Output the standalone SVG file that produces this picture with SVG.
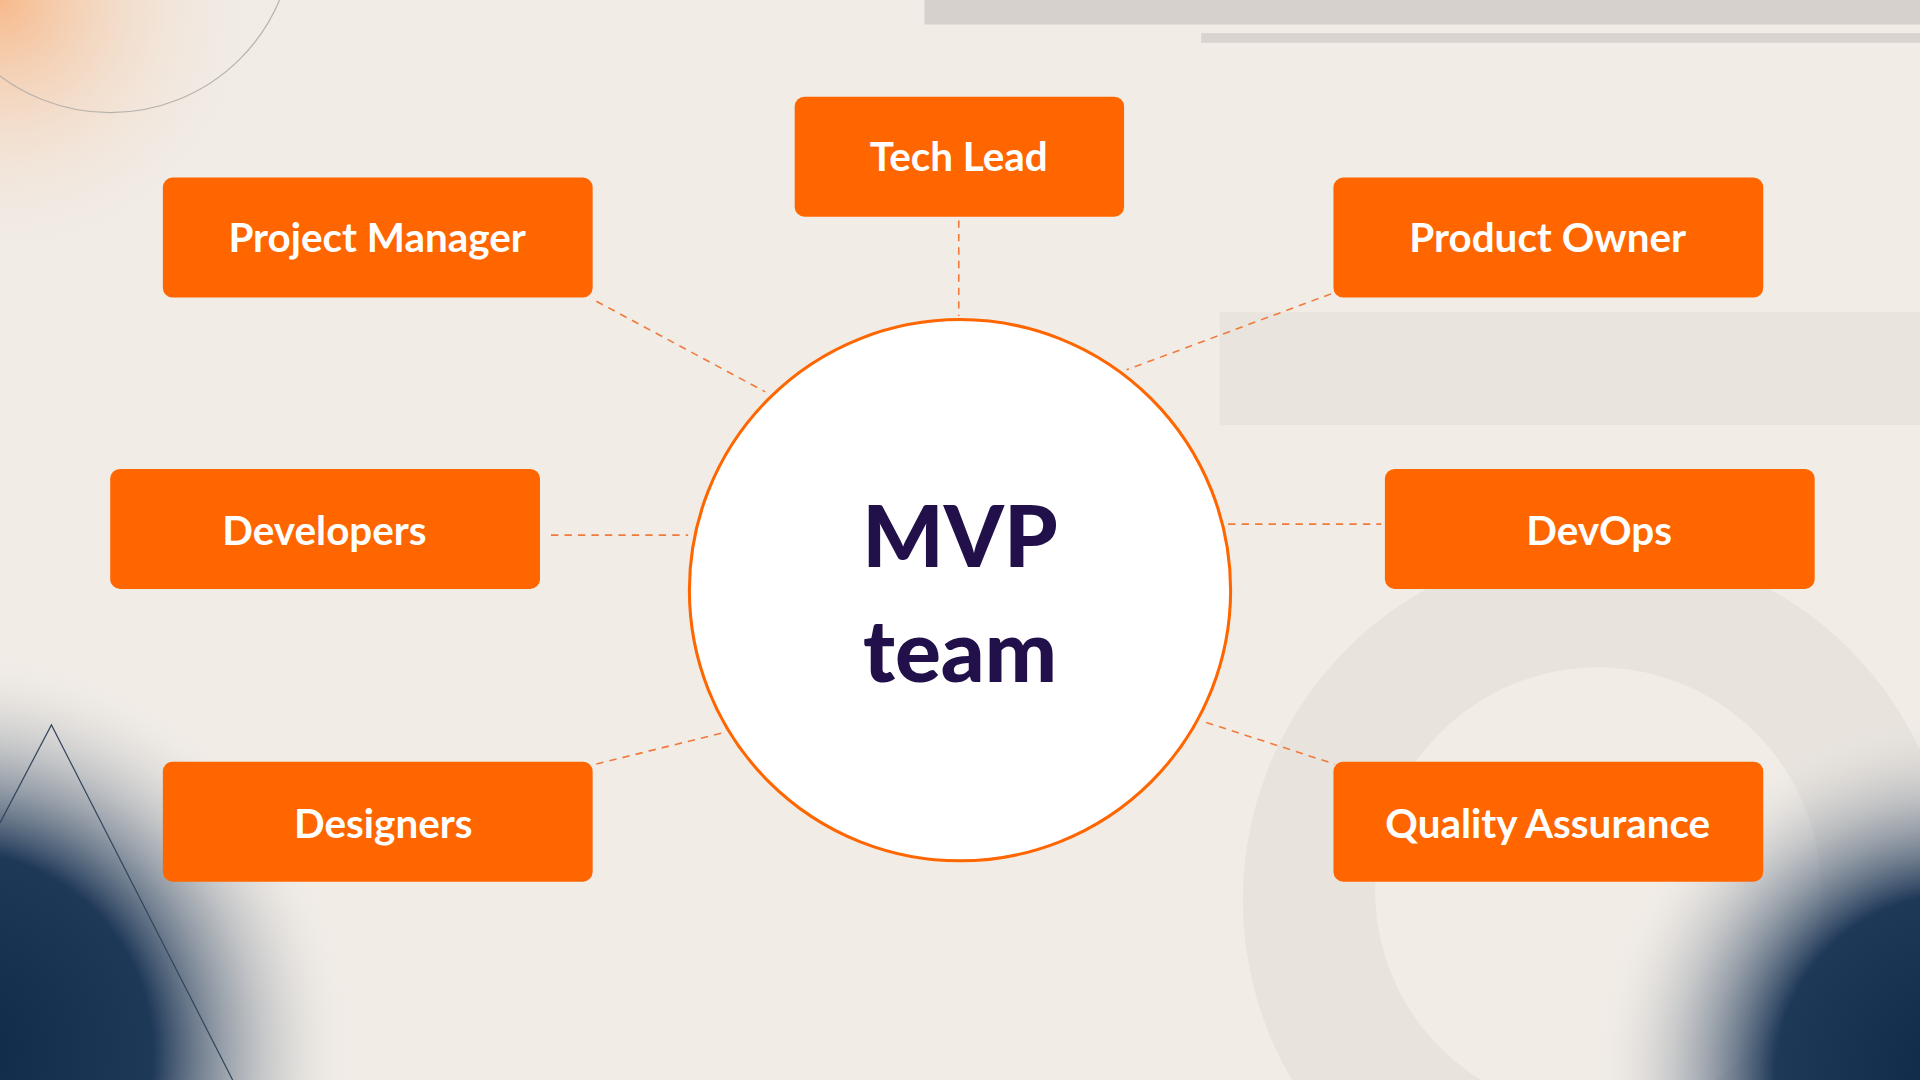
<svg xmlns="http://www.w3.org/2000/svg" width="1920" height="1080" viewBox="0 0 1920 1080">
<defs>
<style>
.box{fill:#ff6600}
.lbl{font-family:Lato,"Open Sans",sans-serif;font-weight:700;font-size:33px;fill:#ffffff;text-anchor:middle}
.con{stroke:#f07a3a;stroke-width:1.3;stroke-dasharray:6 5;fill:none}
.big{font-family:Lato,"Open Sans",sans-serif;font-weight:900;font-size:70px;fill:#22104a;text-anchor:middle}
</style>
<radialGradient id="bl" gradientUnits="userSpaceOnUse" cx="-40" cy="860" r="330">
<stop offset="0" stop-color="#0f2848"/><stop offset="0.5" stop-color="#1e3858"/><stop offset="1" stop-color="#f1ece6" stop-opacity="0"/>
</radialGradient>
<radialGradient id="br" gradientUnits="userSpaceOnUse" cx="1600" cy="880" r="300">
<stop offset="0" stop-color="#0f2848"/><stop offset="0.5" stop-color="#1e3858"/><stop offset="1" stop-color="#f1ece6" stop-opacity="0"/>
</radialGradient>
<radialGradient id="tl" gradientUnits="userSpaceOnUse" cx="0" cy="0" r="220">
<stop offset="0" stop-color="#f7b98a"/><stop offset="1" stop-color="#f1ece6" stop-opacity="0"/>
</radialGradient>
</defs>
<g transform="scale(1.22449)">
<rect width="1568" height="882" fill="#f1ece6"/>
<rect width="260" height="220" fill="url(#tl)"/>
<circle cx="90" cy="-58" r="150" fill="none" stroke="#b8b2ad" stroke-width="1"/>
<rect x="755" y="0" width="813" height="20" fill="#d6d1cd"/>
<rect x="981" y="27" width="587" height="8" fill="#d9d4cf"/>
<rect x="996" y="255" width="572" height="92" fill="#e9e4de"/>
<path d="M1305 445a290 290 0 1 0 0.1 0zM1305 545a182 182 0 1 1 -0.1 0z" fill="#e8e3dd" fill-rule="evenodd"/>
<rect x="0" y="450" width="400" height="432" fill="url(#bl)"/>
<rect x="1250" y="520" width="318" height="362" fill="url(#br)"/>
<path d="M0 672L42 592L190 882" fill="none" stroke="#34465e" stroke-width="1"/>
<g id="connectors">
<line class="con" x1="783" y1="180" x2="783" y2="258"/>
<line class="con" x1="487" y1="246" x2="625" y2="320"/>
<line class="con" x1="1087" y1="240" x2="920" y2="302"/>
<line class="con" x1="450" y1="437" x2="562" y2="437"/>
<line class="con" x1="1003" y1="428" x2="1128" y2="428"/>
<line class="con" x1="487" y1="624" x2="592" y2="598"/>
<line class="con" x1="985" y1="590" x2="1090" y2="624"/>
</g>
<g id="center"><circle cx="784" cy="482" r="221" fill="#ffffff" stroke="#ff6600" stroke-width="2.5"/>
<text class="big" x="784" y="463">MVP</text><text class="big" x="784" y="557">team</text></g>
<g id="techlead"><rect class="box" x="649" y="79" width="269" height="98" rx="8"/><text class="lbl" x="783" y="140">Tech Lead</text></g>
<g id="pm"><rect class="box" x="133" y="145" width="351" height="98" rx="8"/><text class="lbl" x="308" y="206">Project Manager</text></g>
<g id="po"><rect class="box" x="1089" y="145" width="351" height="98" rx="8"/><text class="lbl" x="1264" y="206">Product Owner</text></g>
<g id="dev"><rect class="box" x="90" y="383" width="351" height="98" rx="8"/><text class="lbl" x="265" y="445">Developers</text></g>
<g id="devops"><rect class="box" x="1131" y="383" width="351" height="98" rx="8"/><text class="lbl" x="1306" y="445">DevOps</text></g>
<g id="design"><rect class="box" x="133" y="622" width="351" height="98" rx="8"/><text class="lbl" x="313" y="684">Designers</text></g>
<g id="qa"><rect class="box" x="1089" y="622" width="351" height="98" rx="8"/><text class="lbl" x="1264" y="684">Quality Assurance</text></g>
</g>
</svg>
